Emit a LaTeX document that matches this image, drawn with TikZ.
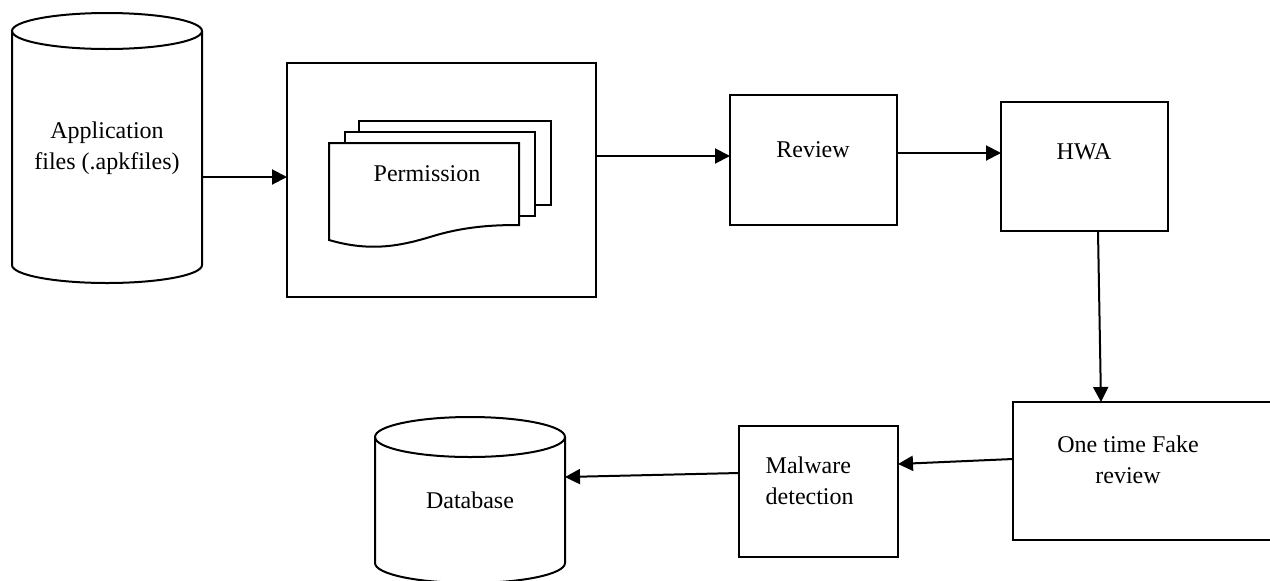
\documentclass[tikz,border=0pt]{standalone}
\usepackage{fontspec}
\setmainfont{Liberation Serif}
\usetikzlibrary{arrows.meta}

\begin{document}
\begin{tikzpicture}[x=0.5pt,y=-0.5pt,line width=1pt,
  every node/.style={font=\fontsize{12}{15.5}\selectfont, outer sep=0pt},
  box/.style={draw, rectangle},
  store/.style={rectangle, minimum width=95pt, align=center},
  flow/.style={-{Triangle[length=7.5pt,width=7.5pt]}}]
\useasboundingbox (0,0) rectangle (1270,580);

\node[store, minimum height=117pt] (apps) at (107,148) {Application\\files (.apkfiles)};
\node[box, minimum width=154.5pt, minimum height=117pt] (perm) at (441.5,180) {};
\node[box, minimum width=83.5pt, minimum height=65pt] (review) at (813.5,160) {};
\node[box, minimum width=83.5pt, minimum height=64.5pt] (hwa) at (1084.5,166.5) {};
\node[box, minimum width=133.5pt, minimum height=69pt] (fake) at (1146.5,471) {};
\node[box, minimum width=79.5pt, minimum height=65.5pt] (malware) at (818.5,491.5) {};
\node[store, minimum height=63pt] (db) at (470,500) {Database};

\draw (apps.north west) -- (apps.south west) arc[start angle=180, end angle=360, x radius=47.5pt, y radius=9pt] -- (apps.north east);
\draw (apps.north) ellipse[x radius=47.5pt, y radius=9pt];
\draw (db.north west) -- (db.south west) arc[start angle=180, end angle=360, x radius=47.5pt, y radius=10pt] -- (db.north east);
\draw (db.north) ellipse[x radius=47.5pt, y radius=10pt];

\draw[fill=white] (359,121) rectangle (551,205);
\draw[fill=white] (345,132) rectangle (535,216);
\draw[fill=white] (329,143) -- (519,143) -- (519,225)
  .. controls (495,225) and (465,226) .. (430,237)
  .. controls (400,246) and (370,252) .. (329,240) -- cycle;

\node (permtxt) at (427,174) {Permission};
\node (reviewtxt) at (813,150) {Review};
\node (hwatxt) at (1084,152) {HWA};
\node[align=center] (faketxt) at (1128,460) {One time Fake\\review};
\node[align=left, anchor=west] (malwaretxt) at (759,481) {Malware\\detection};

\draw[flow] ([yshift=-14.5pt]apps.east) -- ([yshift=-14.5pt]apps.east -| perm.west);
\draw[flow] ([yshift=12pt]perm.east) -- ([yshift=12pt]perm.east -| review.west);
\draw[flow] ([yshift=3.5pt]review.east) -- ([yshift=3.5pt]review.east -| hwa.west);
\draw[flow] ([xshift=6.75pt]hwa.south) -- ([xshift=-22.75pt]fake.north);
\draw[flow] ([yshift=6pt]fake.west) -- ([yshift=13.75pt]malware.east);
\draw[flow] ([yshift=9.25pt]malware.west) -- ([yshift=11.5pt]db.east);
\end{tikzpicture}
\end{document}
